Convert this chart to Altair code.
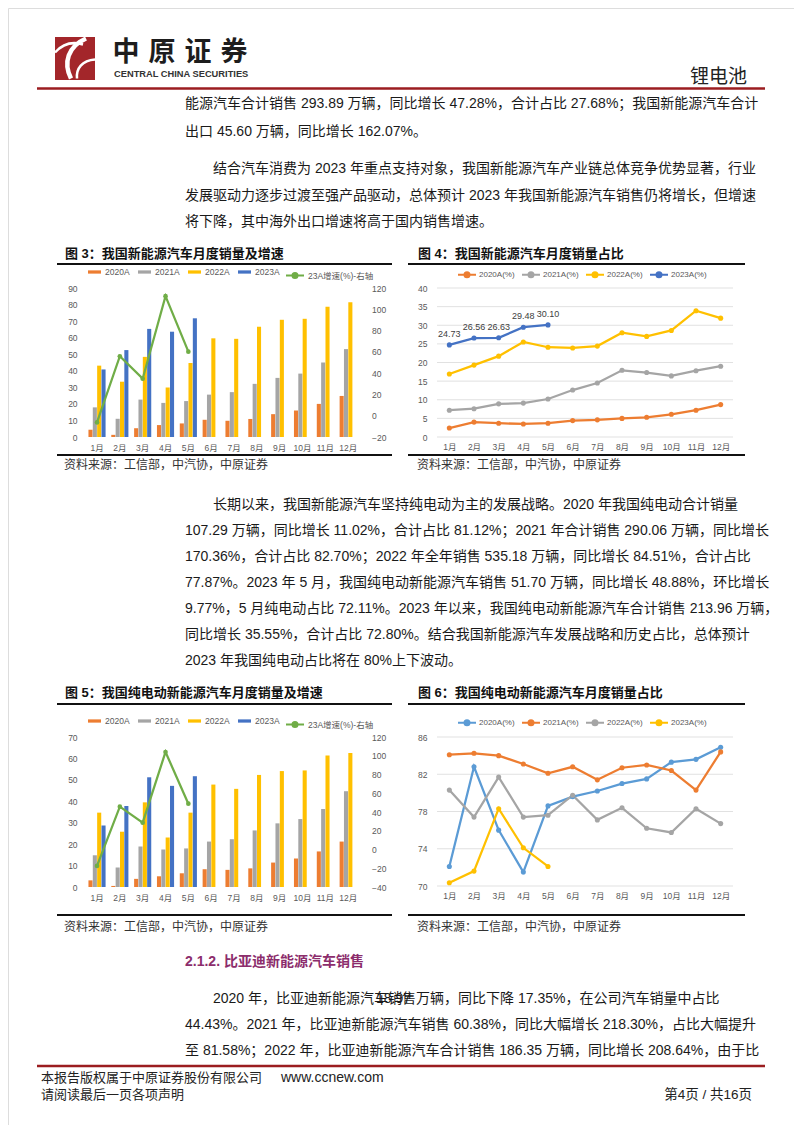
import altair as alt
import pandas as pd

FONT = "Liberation Sans, Noto Sans CJK SC"
CJK = "Noto Sans CJK SC"
W, H = 786, 1117
OX, OY = 8, 8
TEXT = "#1a1a1a"
AXC = "#595959"

# ---------------- data ----------------
months = ["1月", "2月", "3月", "4月", "5月", "6月", "7月", "8月", "9月", "10月", "11月", "12月"]

BAR_SERIES = ["2020A", "2021A", "2022A", "2023A"]
BAR_COLORS = ["#ED7D31", "#A5A5A5", "#FFC000", "#4472C4"]
GREEN = "#70AD47"
GROWTH_NAME = "23A增速(%)-右轴"

# Fig 3: NEV monthly sales (10k units) and 2023 growth (%)
nev_2020 = [4.4, 1.3, 5.3, 7.2, 8.2, 10.4, 9.8, 10.9, 13.8, 16.0, 20.0, 24.8]
nev_2021 = [17.9, 11.0, 22.6, 20.6, 21.7, 25.6, 27.1, 32.1, 35.7, 38.3, 45.0, 53.1]
nev_2022 = [43.1, 33.4, 48.4, 29.9, 44.7, 59.6, 59.3, 66.6, 70.8, 71.4, 78.6, 81.4]
nev_2023 = [40.8, 52.5, 65.3, 63.6, 71.7]
nev_growth = [-6.3, 55.9, 34.8, 112.3, 60.2]

# Fig 4: NEV share (%)
SHARE_SERIES = ["2020A(%)", "2021A(%)", "2022A(%)", "2023A(%)"]
SHARE_COLORS = ["#ED7D31", "#A5A5A5", "#FFC000", "#4472C4"]
share_2020 = [2.4, 4.0, 3.7, 3.5, 3.7, 4.4, 4.6, 5.0, 5.3, 6.1, 7.2, 8.7]
share_2021 = [7.2, 7.6, 8.9, 9.1, 10.2, 12.6, 14.5, 17.9, 17.3, 16.4, 17.8, 19.0]
share_2022 = [16.9, 19.3, 21.7, 25.5, 24.1, 23.9, 24.4, 28.0, 27.0, 28.6, 33.9, 31.9]
share_2023 = [24.73, 26.56, 26.63, 29.48, 30.10]

# Fig 5: BEV monthly sales (10k units) and 2023 growth (%)
bev_2020 = [3.1, 0.5, 3.8, 5.0, 6.4, 8.3, 8.0, 8.7, 11.4, 13.3, 16.6, 21.2]
bev_2021 = [14.8, 9.1, 18.9, 17.5, 18.0, 21.2, 22.3, 26.4, 29.7, 31.7, 36.4, 44.7]
bev_2022 = [34.7, 25.8, 39.5, 23.1, 34.7, 47.8, 45.8, 52.3, 54.1, 54.4, 61.4, 62.5]
bev_2023 = [28.7, 37.8, 51.2, 47.2, 51.7]
bev_growth = [-17.5, 45.7, 28.6, 104.0, 48.88]

# Fig 6: BEV share of NEV (%)
BSHARE_COLORS = ["#5B9BD5", "#ED7D31", "#A5A5A5", "#FFC000"]
bshare_2020 = [72.1, 82.8, 76.0, 71.5, 78.6, 79.6, 80.2, 81.0, 81.5, 83.3, 83.6, 84.9]
bshare_2021 = [84.1, 84.25, 84.0, 83.1, 82.1, 82.8, 81.4, 82.7, 83.0, 82.4, 80.3, 84.4]
bshare_2022 = [80.3, 77.4, 81.7, 77.4, 77.6, 79.75, 77.1, 78.4, 76.2, 75.75, 78.3, 76.7]
bshare_2023 = [70.35, 71.6, 78.3, 74.1, 72.1]

# axis tick values
t3_left = [0, 10, 20, 30, 40, 50, 60, 70, 80, 90]
t3_right = [-20, 0, 20, 40, 60, 80, 100, 120]
t4 = [0, 5, 10, 15, 20, 25, 30, 35, 40]
t5_left = [0, 10, 20, 30, 40, 50, 60, 70]
t5_right = [-40, -20, 0, 20, 40, 60, 80, 100, 120]
t6 = [70, 74, 78, 82, 86]

# ---------------- texts ----------------
para1 = [
    "能源汽车合计销售 293.89 万辆，同比增长 47.28%，合计占比 27.68%；我国新能源汽车合计",
    "出口 45.60 万辆，同比增长 162.07%。",
]
para2 = [
    "结合汽车消费为 2023 年重点支持对象，我国新能源汽车产业链总体竞争优势显著，行业",
    "发展驱动力逐步过渡至强产品驱动，总体预计 2023 年我国新能源汽车销售仍将增长，但增速",
    "将下降，其中海外出口增速将高于国内销售增速。",
]
para3 = [
    "长期以来，我国新能源汽车坚持纯电动为主的发展战略。2020 年我国纯电动合计销量",
    "107.29 万辆，同比增长 11.02%，合计占比 81.12%；2021 年合计销售 290.06 万辆，同比增长",
    "170.36%，合计占比 82.70%；2022 年全年销售 535.18 万辆，同比增长 84.51%，合计占比",
    "77.87%。2023 年 5 月，我国纯电动新能源汽车销售 51.70 万辆，同比增长 48.88%，环比增长",
    "9.77%，5 月纯电动占比 72.11%。2023 年以来，我国纯电动新能源汽车合计销售 213.96 万辆，",
    "同比增长 35.55%，合计占比 72.80%。结合我国新能源汽车发展战略和历史占比，总体预计",
    "2023 年我国纯电动占比将在 80%上下波动。",
]
para4 = [
    "2020 年，比亚迪新能源汽车销售万辆，同比下降 17.35%，在公司汽车销量中占比",
    "44.43%。2021 年，比亚迪新能源汽车销售 60.38%，同比大幅增长 218.30%，占比大幅提升",
    "至 81.58%；2022 年，比亚迪新能源汽车合计销售 186.35 万辆，同比增长 208.64%，由于比",
]
overlap_num = "18.97"
fig_titles = ["图 3：我国新能源汽车月度销量及增速", "图 4：我国新能源汽车月度销量占比",
              "图 5：我国纯电动新能源汽车月度销量及增速", "图 6：我国纯电动新能源汽车月度销量占比"]
source = "资料来源：工信部，中汽协，中原证券"
heading = "2.1.2. 比亚迪新能源汽车销售"
footer = ["本报告版权属于中原证券股份有限公司", "www.ccnew.com", "请阅读最后一页各项声明", "第4页 / 共16页"]
logo_cn = "中原证券"
logo_en = "CENTRAL CHINA SECURITIES"
topic = "锂电池"


# ---------------- helpers ----------------
def txt(s, x, y, size=14, color=TEXT, bold=False, align="left", font=FONT):
    return alt.Chart(pd.DataFrame({"t": [s]})).mark_text(
        align=align, baseline="middle", fontSize=size, color=color,
        fontWeight="bold" if bold else "normal", font=font
    ).encode(text="t:N", x=alt.value(x - OX), y=alt.value(y - OY))


def hline(x1, x2, y, color, w):
    return alt.Chart(pd.DataFrame({"d": [0]})).mark_rule(color=color, strokeWidth=w).encode(
        x=alt.value(x1 - OX), x2=alt.value(x2 - OX), y=alt.value(y - OY))


def long_df(names, arrays, col="series"):
    rows = []
    for n, arr in zip(names, arrays):
        for i, v in enumerate(arr):
            rows.append({"month": months[i], col: n, "value": v})
    return pd.DataFrame(rows)


BAR_SYM = "M-1,-0.25H1V0.25H-1Z"
LINE_SYM = "M-1,0H1M-0.28,0A0.28,0.28,0,1,0,0.28,0A0.28,0.28,0,1,0,-0.28,0"

# plot geometry (chart coordinates = page - 8)
C3_X = [77.6, 351.6]
C4_X = [429, 725]


def label_axis(orient, offset, values=None, pad=8):
    kw = dict(orient=orient, offset=offset, title=None, ticks=False, domain=False, grid=False,
              labelPadding=pad, labelFontSize=8.5, labelColor=AXC, labelFont=FONT)
    if values is not None:
        kw["values"] = values
    if orient == "bottom":
        kw["labelAngle"] = 0
    return alt.Axis(**kw)


def combo(arrays, growth, ydom, yvals, rdom, rvals, yrange, legend_y):
    df = long_df(BAR_SERIES, arrays)
    gdf = pd.DataFrame({"month": months[:len(growth)], "growth": growth, "name": GROWTH_NAME})
    xdef = alt.X("month:N", title=None,
                 scale=alt.Scale(domain=months, range=C3_X, paddingInner=0.25, paddingOuter=0.125),
                 axis=label_axis("bottom", yrange[0] - H, pad=6))
    bars = alt.Chart(df).mark_bar().encode(
        x=xdef,
        xOffset=alt.XOffset("series:N", scale=alt.Scale(domain=BAR_SERIES, paddingInner=0.06)),
        y=alt.Y("value:Q", title=None,
                scale=alt.Scale(domain=ydom, range=yrange, nice=False, zero=False),
                axis=label_axis("left", -C3_X[0], yvals, pad=8.5)),
        color=alt.Color("series:N", title=None,
                        scale=alt.Scale(domain=BAR_SERIES, range=BAR_COLORS),
                        legend=alt.Legend(orient="none", legendX=80, legendY=legend_y,
                                          direction="horizontal", symbolType=BAR_SYM, symbolSize=169,
                                          symbolStrokeWidth=0, labelFontSize=8.5, labelColor=AXC,
                                          labelFont=FONT, labelOffset=4, columnPadding=8, padding=0)),
    )
    line = alt.Chart(gdf).mark_line(strokeWidth=2.25, point=alt.OverlayMarkDef(filled=True, size=22)).encode(
        x=xdef,
        y=alt.Y("growth:Q", title=None,
                scale=alt.Scale(domain=rdom, range=yrange, nice=False, zero=False),
                axis=label_axis("right", C3_X[1] - W, rvals, pad=12)),
        color=alt.Color("name:N", title=None,
                        scale=alt.Scale(domain=[GROWTH_NAME], range=[GREEN]),
                        legend=alt.Legend(orient="none", legendX=277, legendY=legend_y,
                                          direction="horizontal", symbolType=LINE_SYM, symbolSize=324,
                                          symbolStrokeWidth=2, labelFontSize=8.5, labelColor=AXC,
                                          labelFont=FONT, labelOffset=3, padding=0)),
    )
    return alt.layer(bars, line).resolve_scale(y="independent", color="independent")


def share(names, colors, arrays, ydom, yvals, yrange, legend_y, label_series=None):
    df = long_df(names, arrays)
    xdef = alt.X("month:N", title=None,
                 scale=alt.Scale(domain=months, range=C4_X, paddingInner=0, paddingOuter=0),
                 axis=label_axis("bottom", yrange[0] - H, pad=5.5))
    ydef = alt.Y("value:Q", title=None,
                 scale=alt.Scale(domain=ydom, range=yrange, nice=False, zero=False),
                 axis=label_axis("left", -C4_X[0], yvals, pad=10))
    grid = alt.Chart(pd.DataFrame({"value": yvals})).mark_rule(color="#D9D9D9", strokeWidth=0.8).encode(
        y=ydef, x=alt.value(C4_X[0]), x2=alt.value(C4_X[1]))
    lines = alt.Chart(df).mark_line(strokeWidth=2.25, point=alt.OverlayMarkDef(filled=True, size=26)).encode(
        x=xdef, y=ydef,
        color=alt.Color("series:N", title=None, sort=names,
                        scale=alt.Scale(domain=names, range=colors),
                        legend=alt.Legend(orient="none", legendX=449, legendY=legend_y,
                                          direction="horizontal", symbolType=LINE_SYM, symbolSize=324,
                                          symbolStrokeWidth=2, labelFontSize=8, labelColor=AXC,
                                          labelFont=FONT, labelOffset=2, columnPadding=3, padding=0)),
        order=alt.Order("month_idx:Q"),
    ).transform_calculate(month_idx="indexof(%s, datum.month)" % str(months))
    layers = [grid, lines]
    if label_series is not None:
        ldf = df[df["series"] == label_series]
        labels = alt.Chart(ldf).mark_text(dy=-11, fontSize=9, color="#404040", font=FONT).encode(
            x=xdef, y=ydef, text=alt.Text("value:Q", format=".2f"))
        layers.append(labels)
    return alt.layer(*layers)


# ---------------- charts ----------------
c3 = combo([nev_2020, nev_2021, nev_2022, nev_2023], nev_growth, [0, 90], t3_left, [-20, 120], t3_right,
           [429, 280], 257.5)
c4 = share(SHARE_SERIES, SHARE_COLORS, [share_2020, share_2021, share_2022, share_2023], [0, 40], t4,
           [429, 280], 256.5, label_series="2023A(%)")
c5 = combo([bev_2020, bev_2021, bev_2022, bev_2023], bev_growth, [0, 70], t5_left, [-40, 120], t5_right,
           [879, 729], 706.5)
c6 = share(SHARE_SERIES, BSHARE_COLORS, [bshare_2020, bshare_2021, bshare_2022, bshare_2023], [70, 86], t6,
           [878, 729], 704.5)

# ---------------- page decoration ----------------
deco = []
# logo
deco.append(alt.Chart(pd.DataFrame({"d": [0]})).mark_rect(color="#A3262A").encode(
    x=alt.value(55 - OX), x2=alt.value(95 - OX), y=alt.value(37 - OY), y2=alt.value(80 - OY)))
for path, sw in [("M0.55,-1C-0.35,-0.6,-0.6,0.2,-0.2,1", 4.5),
                 ("M-1,-0.3C-0.6,-0.75,-0.1,-0.85,0.4,-0.7", 2.5),
                 ("M0.1,1C0.05,0.5,0.35,0.1,1,0.05", 2.5)]:
    deco.append(alt.Chart(pd.DataFrame({"d": [0]})).mark_point(
        shape=path, size=1600, filled=False, stroke="white", strokeWidth=sw, opacity=1).encode(
        x=alt.value(75 - OX), y=alt.value(58.5 - OY)))
for k, ch in enumerate(logo_cn):
    deco.append(txt(ch, 126 + 36 * k, 53, size=27, color="#1d1d1d", bold=True, align="center", font=CJK))
deco.append(txt(logo_en, 114, 74, size=9.3, color="#333333", bold=True))
deco.append(txt(topic, 690, 77, size=19, color="#222222", font=CJK))
deco.append(hline(37, 765, 88.5, "#9B1D20", 2.5))

for i, (s, y) in enumerate(zip(para1, [104, 132])):
    deco.append(txt(s, 185, y))
for i, (s, y) in enumerate(zip(para2, [169, 196, 222])):
    deco.append(txt(s, 213 if i == 0 else 185, y))

# figure frames
for t, x, y in [(fig_titles[0], 65, 254), (fig_titles[1], 418, 254),
                (fig_titles[2], 65, 693), (fig_titles[3], 418, 693)]:
    deco.append(txt(t, x, y, size=13, color="#111111", bold=True))
for x1, x2 in [(57, 392), (408, 745)]:
    deco.append(hline(x1, x2, 264, "#111111", 2))
    deco.append(hline(x1, x2, 455, "#111111", 2))
    deco.append(hline(x1, x2, 704, "#111111", 2))
    deco.append(hline(x1, x2, 915, "#111111", 2))
for x in [64, 417]:
    deco.append(txt(source, x, 465, size=12, color="#333333"))
    deco.append(txt(source, x, 927, size=12, color="#333333"))

for i, (s, y) in enumerate(zip(para3, [505, 531, 557, 583, 609, 635, 661])):
    deco.append(txt(s, 213 if i == 0 else 185, y))

deco.append(txt(heading, 185, 962, size=14, color="#8C2D6C", bold=True))
for i, (s, y) in enumerate(zip(para4, [999, 1025, 1051])):
    deco.append(txt(s, 213 if i == 0 else 185, y))
deco.append(txt(overlap_num, 376, 999))

deco.append(hline(37, 765, 1066, "#9B1D20", 2.5))
deco.append(txt(footer[0], 41, 1078, size=13, color="#222222"))
deco.append(txt(footer[1], 281, 1078, size=14, color="#222222"))
deco.append(txt(footer[2], 41, 1095, size=13, color="#222222"))
deco.append(txt(footer[3], 752, 1095, size=13.5, color="#222222", align="right"))

chart = alt.layer(*deco, c3, c4, c5, c6).resolve_scale(
    x="independent", y="independent", color="independent", xOffset="independent"
).properties(
    width=W, height=H, autosize=alt.AutoSizeParams(type="none"), padding=0, background="white"
).configure_view(stroke=None).configure(font=FONT)

chart.save("out.html", embed_options={"renderer": "svg", "actions": False})
